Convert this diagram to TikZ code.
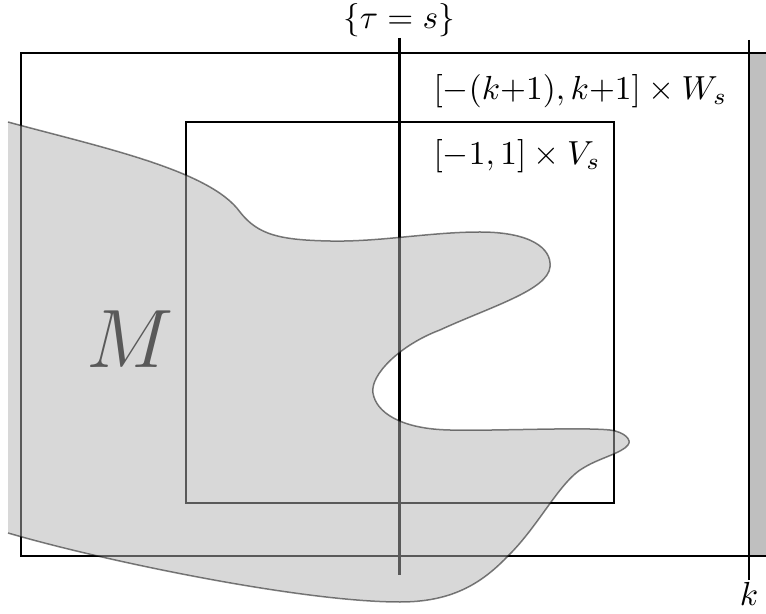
\documentclass[tikz,border=0pt]{standalone}
\usepackage{tikz}

% outline of M (open on the left side)
\def\Mcurve{(8,122) .. controls (100,147) and (210,170) .. (240,212)
  .. controls (258,235) and (280,240) .. (330,241)
  .. controls (380,242) and (430,232) .. (480,232)
  .. controls (530,232) and (552,248) .. (550,267)
  .. controls (548,290) and (490,307) .. (440,330)
  .. controls (400,345) and (370,375) .. (373,393)
  .. controls (376,412) and (400,429) .. (450,430)
  .. controls (500,431) and (580,427) .. (610,430)
  .. controls (625,432) and (632,440) .. (628,445)
  .. controls (622,453) and (600,458) .. (585,467)
  .. controls (560,480) and (540,525) .. (507,557)
  .. controls (480,585) and (450,602) .. (400,602)
  .. controls (300,602) and (100,560) .. (8,533)}

\begin{document}
\begin{tikzpicture}[x=0.3pt,y=-0.3pt,
  box/.style={black,line width=0.6pt},
  slice/.style={black,line width=0.9pt},
  lbl/.style={inner sep=0pt,font=\fontsize{10.2}{12}\selectfont}]
\path[use as bounding box] (0,0) rectangle (766,614);
% strip beyond k
\fill[black!25] (750,53) rectangle (766,556);
% outer and inner boxes
\draw[box] (766,53) -- (21,53) -- (21,556) -- (766,556);
\draw[box] (186,122) rectangle (614,503);
% slice {tau = s} and the line at k
\coordinate (t0) at (399,38);
\coordinate (t1) at (399,575);
\draw[slice] (t0) -- (t1);
\coordinate (k0) at (749,40);
\coordinate (k1) at (749,580);
\draw[box] (k0) -- (k1);
\node[lbl,anchor=south] (tau) at (t0) {$\{\tau=s\}$};
\node[lbl,anchor=north] (klbl) at ([yshift=-0.6pt]k1) {$k$};
\node[lbl,anchor=base west] (wlbl) at (433,100) {$[-(k{+}1),k{+}1]\times W_s$};
\node[lbl,anchor=base west] (vlbl) at (433,165) {$[-1,1]\times V_s$};
\node[inner sep=0pt,anchor=base,font=\fontsize{23}{28}\selectfont] (M) at (130,368) {$M$};
% the manifold M
\fill[black!30,opacity=0.5] \Mcurve -- cycle;
\draw[black,opacity=0.5,line width=0.45pt] \Mcurve;
\end{tikzpicture}
\end{document}
